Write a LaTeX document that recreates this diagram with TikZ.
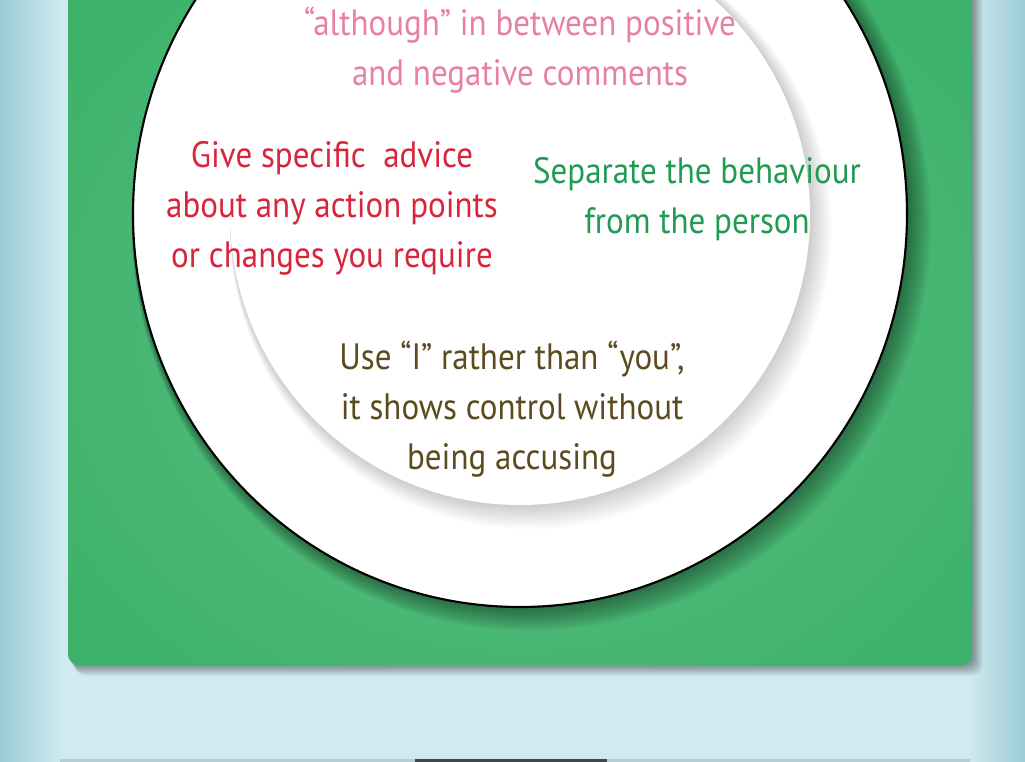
\documentclass[tikz,border=0pt]{standalone}
\usepackage{fontspec}
\setmainfont{PT Sans}[FakeStretch=0.9]
\definecolor{bgmid}{HTML}{CFEAF0}
\definecolor{bgedge}{HTML}{9CCBD6}
\definecolor{panel}{HTML}{3CB26B}
\definecolor{panellight}{HTML}{62C085}
\definecolor{pinktxt}{HTML}{E7819F}
\definecolor{redtxt}{HTML}{D7263B}
\definecolor{greentxt}{HTML}{1F9B52}
\definecolor{browntxt}{HTML}{5C4B1E}
\tikzset{
  tip/.style={align=center, font=\fontsize{27.5}{37.5}\selectfont, inner sep=0pt},
}
\begin{document}
\begin{tikzpicture}[x=0.75pt,y=-0.75pt]
\useasboundingbox (0,0) rectangle (1025,762);
% background
\fill[bgmid] (0,0) rectangle (1025,762);
\shade[left color=bgedge, right color=bgmid] (0,0) rectangle (62,762);
\shade[left color=bgmid, right color=bgedge] (968,0) rectangle (1025,762);
% faint bottom line and dark bar
\fill[black!18!bgmid, opacity=0.7] (60,759) rectangle (970,762);
\fill[black!70!bgmid] (415,759) rectangle (607,762);
% panel shadow
\foreach \i in {1,...,12}{
  \fill[black, opacity=0.035, rounded corners=8] (68+0.6*\i,-20) rectangle (972+0.9*\i,665+0.9*\i);
}
% green panel
\fill[panel, rounded corners=8] (68,-20) rectangle (972,665);
\begin{scope}
  \clip[rounded corners=8] (68,-20) rectangle (972,665);
  \shade[inner color=panellight, outer color=panel] (520,330) ellipse [x radius=560, y radius=470];
  % outer circle shadow
  \foreach \i in {1,...,14}{
    \fill[black, opacity=0.03] (520+0.8*\i,214+0.8*\i) ellipse [x radius=387+0.9*\i, y radius=393+0.9*\i];
  }
\end{scope}
% outer circle
\draw[line width=1.6pt, fill=white] (520,214) ellipse [x radius=387, y radius=393];
% inner circle shadow
\begin{scope}
  \clip (520,214) ellipse [x radius=386, y radius=392];
  \foreach \i in {1,...,12}{
    \fill[black, opacity=0.017] (520+0.9*\i,215+1.1*\i) circle [radius=290+0.9*\i];
  }
\end{scope}
\fill[white] (520,215) circle [radius=290];
% texts
\node[tip, text=pinktxt] (pink) at (520,50) {“although” in between positive\\and negative comments};
\node[tip, text=redtxt] (red) at (332,208) {Give specific\ \ advice\\about any action points\\or changes you require};
\node[tip, text=greentxt] (grn) at (697,199) {Separate the behaviour\\from the person};
\node[tip, text=browntxt] (brn) at (512,409) {Use “I” rather than “you”,\\ it shows control without\\being accusing};
\end{tikzpicture}
\end{document}
